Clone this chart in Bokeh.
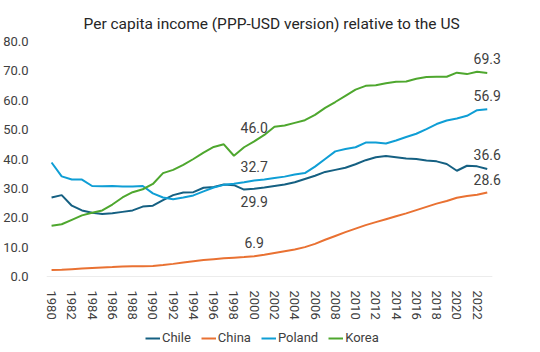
from bokeh.plotting import figure
from bokeh.models import (ColumnDataSource, Range1d, FixedTicker, NumeralTickFormatter,
                          Legend, LegendItem, LabelSet)
from bokeh.layouts import column
from bokeh.core.properties import value
from bokeh.embed import file_html
from bokeh.resources import INLINE

years = list(range(1980, 2024))

chile = [26.9, 27.7, 24.1, 22.5, 21.7, 21.3, 21.5, 22.0, 22.5, 23.8,
         24.1, 26.0, 27.7, 28.6, 28.7, 30.2, 30.5, 31.3, 31.1, 29.6,
         29.9, 30.3, 30.8, 31.3, 32.1, 33.2, 34.3, 35.6, 36.3, 37.0,
         38.2, 39.6, 40.6, 41.0, 40.6, 40.2, 40.0, 39.5, 39.2, 38.3,
         36.0, 37.7, 37.5, 36.6]
china = [2.2, 2.3, 2.5, 2.7, 2.9, 3.1, 3.2, 3.4, 3.5, 3.5,
         3.6, 3.9, 4.3, 4.8, 5.2, 5.6, 5.9, 6.2, 6.4, 6.6,
         6.9, 7.4, 8.0, 8.6, 9.2, 10.0, 11.1, 12.5, 13.8, 15.1,
         16.3, 17.5, 18.5, 19.5, 20.5, 21.5, 22.6, 23.7, 24.8, 25.7,
         26.8, 27.4, 27.8, 28.6]
poland = [38.8, 34.1, 33.0, 33.0, 30.8, 30.7, 30.8, 30.6, 30.6, 30.8,
          28.3, 26.9, 26.3, 26.9, 27.6, 29.0, 30.3, 31.2, 31.6, 32.1,
          32.7, 33.0, 33.5, 34.0, 34.7, 35.2, 37.4, 40.0, 42.6, 43.4,
          44.0, 45.6, 45.6, 45.3, 46.3, 47.5, 48.6, 50.2, 51.9, 53.1,
          53.8, 54.7, 56.6, 56.9]
korea = [17.3, 17.8, 19.3, 20.8, 21.7, 22.5, 24.5, 26.9, 28.7, 29.7,
         31.5, 35.2, 36.3, 38.0, 40.0, 42.2, 44.1, 45.0, 41.1, 44.0,
         46.0, 48.2, 51.0, 51.4, 52.3, 53.2, 55.0, 57.4, 59.4, 61.5,
         63.6, 64.9, 65.1, 65.8, 66.3, 66.4, 67.3, 67.9, 68.0, 68.0,
         69.4, 68.9, 69.7, 69.3]

series_names = ["Chile", "China", "Poland", "Korea"]
series_values = [chile, china, poland, korea]
colors = ["#156082", "#E97132", "#0F9ED5", "#4EA72E"]

x_ticks = list(range(1980, 2023, 2))
y_ticks = [0, 10, 20, 30, 40, 50, 60, 70, 80]
label_years = [2000, 2023]
# vertical screen offset (up = positive) of each data label, per series, per labelled year
label_offsets = {"Chile": [-13, 14], "China": [14, 13], "Poland": [14, 14], "Korea": [14, 14]}

FONT = "Roboto"
TXT = "#404040"

p = figure(width=540, height=322, output_backend="svg", toolbar_location=None,
           x_range=Range1d(years[0] - 0.5, years[-1] + 1.9), y_range=Range1d(0, 80),
           min_border_left=44, min_border_right=34, min_border_top=41, min_border_bottom=41,
           title="Per capita income (PPP-USD version) relative to the US")
p.outline_line_color = None
p.grid.visible = False
p.background_fill_color = "white"
p.border_fill_color = "white"

p.title.align = "left"
p.title.offset = 37
p.title.text_font = FONT
p.title.text_font_size = "15.5px"
p.title.text_font_style = "normal"
p.title.text_color = "#262626"
p.title.standoff = 17

# category-axis baseline (spans the categories only)
p.segment(x0=[years[0] - 0.5], y0=[0], x1=[years[-1] + 0.5], y1=[0],
          line_color="#D9D9D9", line_width=1)

for name, vals, col in zip(series_names, series_values, colors):
    src = ColumnDataSource(dict(x=years, y=vals))
    p.line("x", "y", source=src, line_color=col, line_width=2)

# data labels
lx, ly, lt, lo = [], [], [], []
for name, vals in zip(series_names, series_values):
    for yr, off in zip(label_years, label_offsets[name]):
        v = vals[years.index(yr)]
        lx.append(yr); ly.append(v); lt.append(f"{v:.1f}"); lo.append(off)
lsrc = ColumnDataSource(dict(x=lx, y=ly, t=lt, o=lo))
labels = LabelSet(x="x", y="y", text="t", y_offset="o", source=lsrc, text_align="center",
                  text_baseline="middle", text_font=value(FONT), text_font_size="14px",
                  text_color=TXT)
p.add_layout(labels)

# axes
p.xaxis.ticker = FixedTicker(ticks=x_ticks)
p.xaxis.major_label_orientation = "vertical"
p.xaxis.major_tick_line_color = None
p.xaxis.minor_tick_line_color = None
p.xaxis.axis_line_color = None
p.xaxis.major_label_standoff = 8
p.xaxis.major_label_text_font = FONT
p.xaxis.major_label_text_font_size = "13px"
p.xaxis.major_label_text_color = TXT

p.yaxis.ticker = FixedTicker(ticks=y_ticks)
p.yaxis.formatter = NumeralTickFormatter(format="0.0")
p.yaxis.major_tick_line_color = None
p.yaxis.minor_tick_line_color = None
p.yaxis.axis_line_color = None
p.yaxis.major_label_standoff = 12
p.yaxis.major_label_text_font = FONT
p.yaxis.major_label_text_font_size = "13px"
p.yaxis.major_label_text_color = TXT

# legend strip below the chart
lg = figure(width=540, height=30, output_backend="svg", toolbar_location=None,
            x_range=Range1d(0, 1), y_range=Range1d(0, 1),
            x_axis_location=None, y_axis_location=None,
            min_border_left=0, min_border_right=0, min_border_top=0, min_border_bottom=0)
lg.outline_line_color = None
lg.grid.visible = False
lg.border_fill_color = "white"
items = []
for name, col in zip(series_names, colors):
    r = lg.line(x=[-5, -4], y=[-5, -4], line_color=col, line_width=2)
    items.append(LegendItem(label=name, renderers=[r]))
legend = Legend(items=items, orientation="horizontal", location=(99, 7))
legend.border_line_color = None
legend.background_fill_alpha = 0
legend.padding = 0
legend.margin = 0
legend.spacing = 10
legend.glyph_width = 15
legend.glyph_height = 14
legend.label_standoff = 2
legend.label_text_font = FONT
legend.label_text_font_size = "13px"
legend.label_text_color = TXT
lg.add_layout(legend, "center")

layout = column(p, lg, spacing=0)
open("out.html", "w").write(file_html(layout, INLINE))
